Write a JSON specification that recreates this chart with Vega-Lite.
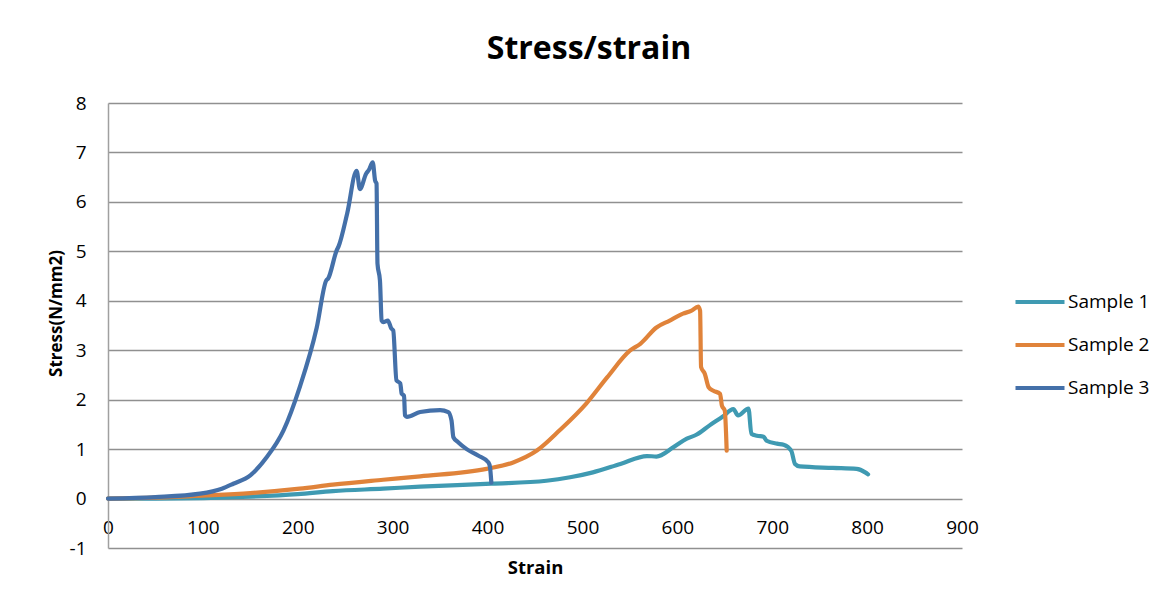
{
  "$schema": "https://vega.github.io/schema/vega-lite/v6.json",
  "width": 854,
  "height": 445,
  "autosize": "none",
  "padding": {"left": 108, "top": 103, "right": 211, "bottom": 57},
  "background": "white",
  "title": {
    "text": "Stress/strain",
    "font": "Open Sans",
    "fontSize": 32,
    "fontWeight": "bold",
    "color": "#000000",
    "anchor": "middle",
    "dx": 54,
    "offset": 28
  },
  "data": {
    "values": [
      {"series": "Sample 1", "strain": 0, "stress": 0},
      {"series": "Sample 1", "strain": 50, "stress": 0.0},
      {"series": "Sample 1", "strain": 100, "stress": 0.01},
      {"series": "Sample 1", "strain": 150, "stress": 0.04},
      {"series": "Sample 1", "strain": 200, "stress": 0.09},
      {"series": "Sample 1", "strain": 237, "stress": 0.15},
      {"series": "Sample 1", "strain": 290, "stress": 0.2},
      {"series": "Sample 1", "strain": 329, "stress": 0.24},
      {"series": "Sample 1", "strain": 404, "stress": 0.3},
      {"series": "Sample 1", "strain": 462, "stress": 0.36},
      {"series": "Sample 1", "strain": 487, "stress": 0.43},
      {"series": "Sample 1", "strain": 511, "stress": 0.53},
      {"series": "Sample 1", "strain": 540, "stress": 0.7},
      {"series": "Sample 1", "strain": 568, "stress": 0.86},
      {"series": "Sample 1", "strain": 578, "stress": 0.85},
      {"series": "Sample 1", "strain": 596, "stress": 1.04},
      {"series": "Sample 1", "strain": 610, "stress": 1.21},
      {"series": "Sample 1", "strain": 620, "stress": 1.29},
      {"series": "Sample 1", "strain": 634, "stress": 1.48},
      {"series": "Sample 1", "strain": 648, "stress": 1.66},
      {"series": "Sample 1", "strain": 659, "stress": 1.81},
      {"series": "Sample 1", "strain": 664, "stress": 1.68},
      {"series": "Sample 1", "strain": 675, "stress": 1.82},
      {"series": "Sample 1", "strain": 678, "stress": 1.31},
      {"series": "Sample 1", "strain": 684, "stress": 1.27},
      {"series": "Sample 1", "strain": 691, "stress": 1.25},
      {"series": "Sample 1", "strain": 694, "stress": 1.17},
      {"series": "Sample 1", "strain": 705, "stress": 1.11},
      {"series": "Sample 1", "strain": 712, "stress": 1.09},
      {"series": "Sample 1", "strain": 720, "stress": 0.97},
      {"series": "Sample 1", "strain": 724, "stress": 0.7},
      {"series": "Sample 1", "strain": 729, "stress": 0.65},
      {"series": "Sample 1", "strain": 764, "stress": 0.62},
      {"series": "Sample 1", "strain": 789, "stress": 0.6},
      {"series": "Sample 1", "strain": 798, "stress": 0.53},
      {"series": "Sample 1", "strain": 801, "stress": 0.49},

      {"series": "Sample 2", "strain": 0, "stress": 0},
      {"series": "Sample 2", "strain": 50, "stress": 0.02},
      {"series": "Sample 2", "strain": 100, "stress": 0.06},
      {"series": "Sample 2", "strain": 150, "stress": 0.11},
      {"series": "Sample 2", "strain": 202, "stress": 0.2},
      {"series": "Sample 2", "strain": 237, "stress": 0.28},
      {"series": "Sample 2", "strain": 290, "stress": 0.38},
      {"series": "Sample 2", "strain": 329, "stress": 0.45},
      {"series": "Sample 2", "strain": 399, "stress": 0.6},
      {"series": "Sample 2", "strain": 427, "stress": 0.73},
      {"series": "Sample 2", "strain": 452, "stress": 0.97},
      {"series": "Sample 2", "strain": 476, "stress": 1.38},
      {"series": "Sample 2", "strain": 504, "stress": 1.92},
      {"series": "Sample 2", "strain": 526, "stress": 2.45},
      {"series": "Sample 2", "strain": 550, "stress": 2.99},
      {"series": "Sample 2", "strain": 561, "stress": 3.13},
      {"series": "Sample 2", "strain": 578, "stress": 3.46},
      {"series": "Sample 2", "strain": 592, "stress": 3.6},
      {"series": "Sample 2", "strain": 606, "stress": 3.74},
      {"series": "Sample 2", "strain": 615, "stress": 3.8},
      {"series": "Sample 2", "strain": 622, "stress": 3.88},
      {"series": "Sample 2", "strain": 624, "stress": 3.8},
      {"series": "Sample 2", "strain": 625, "stress": 2.66},
      {"series": "Sample 2", "strain": 629, "stress": 2.52},
      {"series": "Sample 2", "strain": 633, "stress": 2.25},
      {"series": "Sample 2", "strain": 638, "stress": 2.18},
      {"series": "Sample 2", "strain": 645, "stress": 2.12},
      {"series": "Sample 2", "strain": 647, "stress": 1.88},
      {"series": "Sample 2", "strain": 650, "stress": 1.78},
      {"series": "Sample 2", "strain": 652, "stress": 0.97},

      {"series": "Sample 3", "strain": 0, "stress": 0},
      {"series": "Sample 3", "strain": 50, "stress": 0.03},
      {"series": "Sample 3", "strain": 97, "stress": 0.1},
      {"series": "Sample 3", "strain": 120, "stress": 0.2},
      {"series": "Sample 3", "strain": 132, "stress": 0.3},
      {"series": "Sample 3", "strain": 150, "stress": 0.47},
      {"series": "Sample 3", "strain": 167, "stress": 0.83},
      {"series": "Sample 3", "strain": 185, "stress": 1.38},
      {"series": "Sample 3", "strain": 202, "stress": 2.25},
      {"series": "Sample 3", "strain": 220, "stress": 3.46},
      {"series": "Sample 3", "strain": 230, "stress": 4.41},
      {"series": "Sample 3", "strain": 232, "stress": 4.45},
      {"series": "Sample 3", "strain": 241, "stress": 5.02},
      {"series": "Sample 3", "strain": 243, "stress": 5.1},
      {"series": "Sample 3", "strain": 252, "stress": 5.76},
      {"series": "Sample 3", "strain": 262, "stress": 6.63},
      {"series": "Sample 3", "strain": 265.5, "stress": 6.26},
      {"series": "Sample 3", "strain": 272, "stress": 6.57},
      {"series": "Sample 3", "strain": 275, "stress": 6.65},
      {"series": "Sample 3", "strain": 279, "stress": 6.8},
      {"series": "Sample 3", "strain": 281.5, "stress": 6.43},
      {"series": "Sample 3", "strain": 283, "stress": 6.37},
      {"series": "Sample 3", "strain": 284, "stress": 4.75},
      {"series": "Sample 3", "strain": 286.6, "stress": 4.41},
      {"series": "Sample 3", "strain": 288.4, "stress": 3.6},
      {"series": "Sample 3", "strain": 290, "stress": 3.57},
      {"series": "Sample 3", "strain": 295, "stress": 3.6},
      {"series": "Sample 3", "strain": 298.5, "stress": 3.44},
      {"series": "Sample 3", "strain": 300.6, "stress": 3.4},
      {"series": "Sample 3", "strain": 304, "stress": 2.39},
      {"series": "Sample 3", "strain": 308, "stress": 2.33},
      {"series": "Sample 3", "strain": 309.5, "stress": 2.12},
      {"series": "Sample 3", "strain": 312, "stress": 2.08},
      {"series": "Sample 3", "strain": 313, "stress": 1.68},
      {"series": "Sample 3", "strain": 315, "stress": 1.65},
      {"series": "Sample 3", "strain": 329, "stress": 1.75},
      {"series": "Sample 3", "strain": 350, "stress": 1.79},
      {"series": "Sample 3", "strain": 358.6, "stress": 1.75},
      {"series": "Sample 3", "strain": 362, "stress": 1.58},
      {"series": "Sample 3", "strain": 364, "stress": 1.24},
      {"series": "Sample 3", "strain": 369, "stress": 1.14},
      {"series": "Sample 3", "strain": 378, "stress": 1.0},
      {"series": "Sample 3", "strain": 390, "stress": 0.87},
      {"series": "Sample 3", "strain": 401, "stress": 0.73},
      {"series": "Sample 3", "strain": 402.6, "stress": 0.63},
      {"series": "Sample 3", "strain": 404, "stress": 0.32}
    ]
  },
  "mark": {"type": "line", "strokeWidth": 4.2, "interpolate": "monotone", "strokeCap": "round", "strokeJoin": "round", "clip": false},
  "encoding": {
    "x": {
      "field": "strain",
      "type": "quantitative",
      "scale": {"domain": [0, 900], "nice": false, "zero": false},
      "axis": {
        "title": "Strain",
        "values": [0, 100, 200, 300, 400, 500, 600, 700, 800, 900],
        "grid": false,
        "domain": false,
        "ticks": false,
        "offset": -50,
        "labelPadding": 20,
        "labelFont": "Open Sans",
        "labelFontSize": 19,
        "labelColor": "#000000",
        "labelFlush": false,
        "labelOverlap": false,
        "titleFont": "Open Sans",
        "titleFontSize": 18.5,
        "titleFontWeight": "bold",
        "titleColor": "#000000",
        "titlePadding": 21
      }
    },
    "y": {
      "field": "stress",
      "type": "quantitative",
      "scale": {"domain": [-1, 8], "nice": false, "zero": false},
      "axis": {
        "title": "Stress(N/mm2)",
        "values": [-1, 0, 1, 2, 3, 4, 5, 6, 7, 8],
        "labelExpr": "'' + datum.value",
        "grid": true,
        "gridColor": "#909090",
        "gridWidth": 1.3,
        "domain": true,
        "domainColor": "#a0a0a0",
        "domainWidth": 1.5,
        "ticks": false,
        "labelPadding": 22,
        "labelFont": "Open Sans",
        "labelFontSize": 19,
        "labelColor": "#000000",
        "titleFont": "Open Sans",
        "titleFontSize": 17,
        "titleFontWeight": "bold",
        "titleColor": "#000000",
        "titlePadding": 4,
        "titleY": 210
      }
    },
    "color": {
      "field": "series",
      "type": "nominal",
      "scale": {"domain": ["Sample 1", "Sample 2", "Sample 3"], "range": ["#3f9ab2", "#e0833a", "#4470a9"]},
      "legend": {
        "title": null,
        "orient": "none",
        "legendX": 905,
        "legendY": 172,
        "symbolType": "stroke",
        "symbolSize": 2401,
        "symbolStrokeWidth": 4.2,
        "rowPadding": 6,
        "labelFont": "Open Sans",
        "labelFontSize": 19,
        "labelColor": "#000000",
        "labelOffset": 1
      }
    }
  },
  "config": {
    "view": {"stroke": null}
  }
}
